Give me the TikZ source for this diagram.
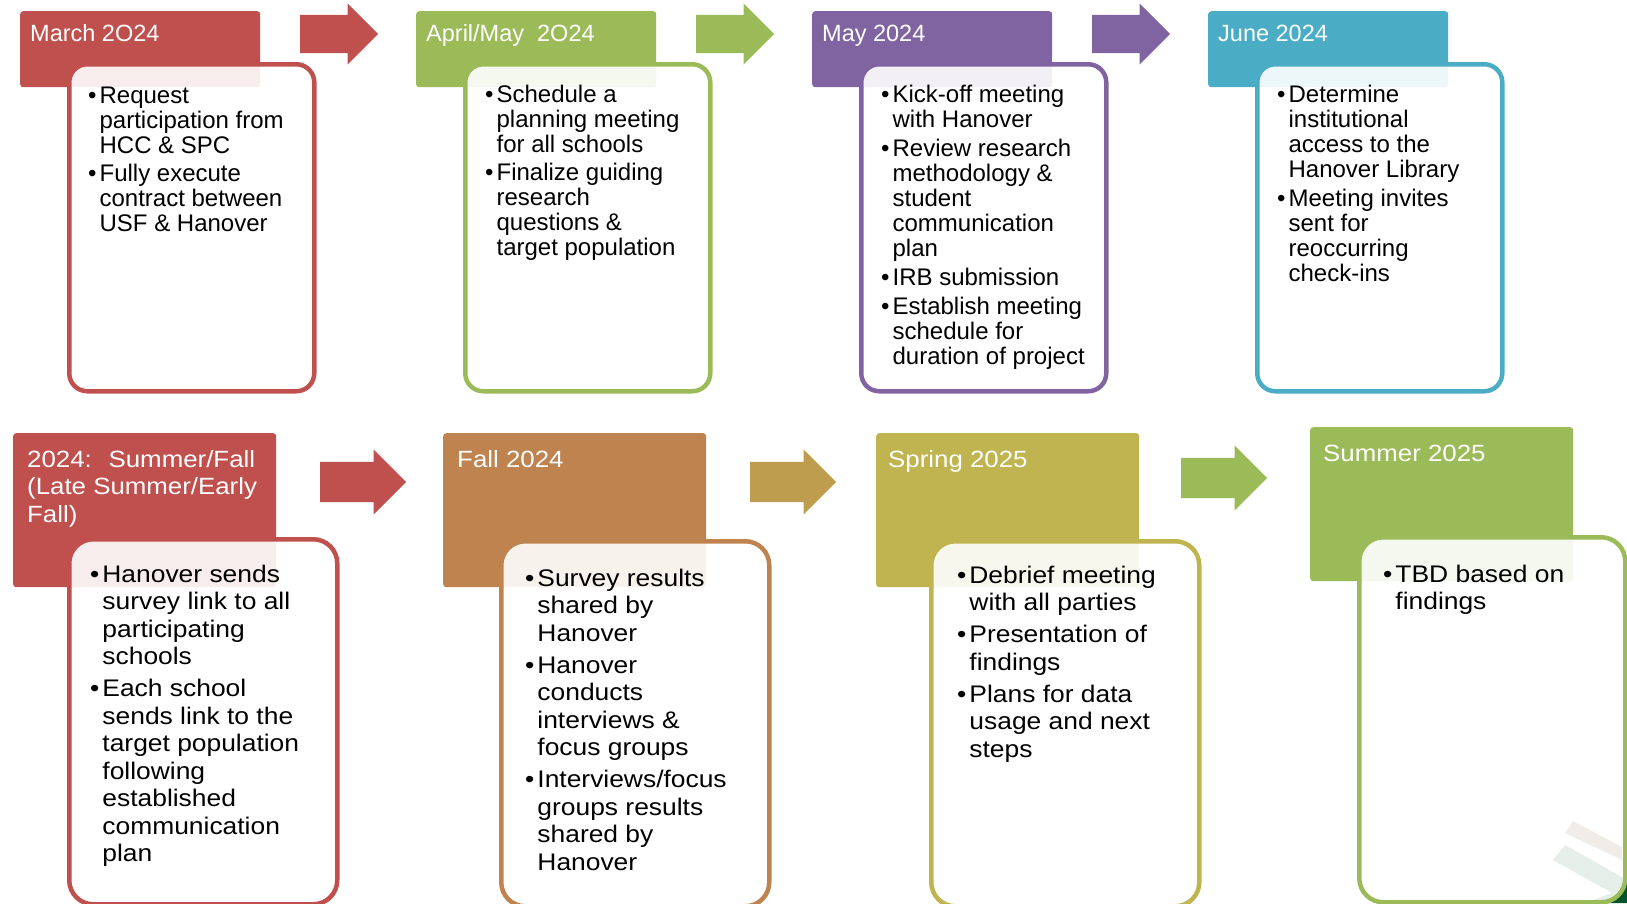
\documentclass[tikz,border=0pt]{standalone}
\usepackage{fontspec}
\setmainfont{Liberation Sans}
\newfontfamily\widefont[FakeStretch=1.1]{Liberation Sans}
\usetikzlibrary{shapes.arrows}

\definecolor{mred}{HTML}{C0504D}
\definecolor{mgreen}{HTML}{9BBB59}
\definecolor{mpurple}{HTML}{8064A2}
\definecolor{maqua}{HTML}{4BACC6}
\definecolor{mfall}{HTML}{BF834F}
\definecolor{mgold}{HTML}{BF9D4F}
\definecolor{mspring}{HTML}{BFB44F}
\definecolor{mbrown}{RGB}{105,65,25}
\definecolor{mdark}{RGB}{0,85,45}

\newcommand{\lines}[1]{\begin{tabular}[t]{@{}l@{}}#1\end{tabular}}
\newcommand{\pts}[1]{\begin{tabular}[t]{@{}l@{\hspace{3pt}}l@{}}#1\end{tabular}}
\newcommand{\bu}{\textbullet}

\begin{document}
\begin{tikzpicture}[x=1pt,y=-1pt,
  hdr/.style={fill=#1, rounded corners=3pt, inner sep=0pt, anchor=north west, minimum width=240pt, minimum height=76pt},
  hdrb/.style={hdr=#1, minimum width=263pt, minimum height=154pt},
  card/.style={draw=#1, line width=4.5pt, fill=white, fill opacity=0.9, rounded corners=18pt, inner sep=0pt, anchor=north west, minimum width=245pt, minimum height=327pt},
  cardb/.style={card=#1, rounded corners=24pt, minimum width=268pt, minimum height=365pt},
  blk/.style={single arrow, fill=#1, inner xsep=0pt, inner ysep=19pt, single arrow head extend=11.5pt, minimum width=61pt, minimum height=78pt, anchor=west},
  blkb/.style={blk=#1, inner ysep=20pt, single arrow head extend=12.5pt, minimum width=65pt, minimum height=86pt},
  ttl/.style={text=white, inner sep=0pt, anchor=base west, font=\fontsize{23.5}{25}\selectfont},
  ttlb/.style={ttl, font=\widefont\fontsize{23.5}{27.5}\selectfont},
  txt/.style={inner sep=0pt, anchor=base west, font=\fontsize{24}{25}\selectfont},
  txtb/.style={txt, font=\widefont\fontsize{24}{27.5}\selectfont}]
\useasboundingbox (0,0) rectangle (1627,903);

% 2024 top row
\node[hdr=mred] (h1) at (20,11) {};
\node[hdr=mgreen] (h2) at (416,11) {};
\node[hdr=mpurple] (h3) at (812,11) {};
\node[hdr=maqua] (h4) at (1208,11) {};

\node[blk=mred] (a1) at (300,34) {};
\node[blk=mgreen] (a2) at (696,34) {};
\node[blk=mpurple] (a3) at (1092,34) {};

\node[card=mred] (c1) at (67,62) {};
\node[card=mgreen] (c2) at (463,62) {};
\node[card=mpurple] (c3) at (859,62) {};
\node[card=maqua] (c4) at (1255,62) {};

\node[ttl] (n1) at (30,41) {March 2O24};
\node[ttl] (n2) at (426,41) {April/May~ 2O24};
\node[ttl] (n3) at (822,41) {May 2024};
\node[ttl] (n4) at (1218,41) {June 2024};

\node[txt] (t1) at (88,103) {\pts{\bu & Request\\ & participation from\\ & HCC \& SPC\\[3pt]
  \bu & Fully execute\\ & contract between\\ & USF \& Hanover}};
\node[txt] (t2) at (485,102) {\pts{\bu & Schedule a\\ & planning meeting\\ & for all schools\\[3.5pt]
  \bu & Finalize guiding\\ & research\\ & questions \&\\ & target population}};
\node[txt] (t3) at (881,102) {\pts{\bu & Kick-off meeting\\ & with Hanover\\[4pt]
  \bu & Review research\\ & methodology \&\\ & student\\ & communication\\ & plan\\[4pt]
  \bu & IRB submission\\[4pt]
  \bu & Establish meeting\\ & schedule for\\ & duration of project}};
\node[txt] (t4) at (1277,102) {\pts{\bu & Determine\\ & institutional\\ & access to the\\ & Hanover Library\\[4pt]
  \bu & Meeting invites\\ & sent for\\ & reoccurring\\ & check-ins}};

% 2024/2025 bottom row
\node[hdrb=mred] (h5) at (13,433) {};
\node[hdrb=mfall] (h6) at (443,433) {};
\node[hdrb=mspring] (h7) at (876,433) {};
\node[hdrb=mgreen] (h8) at (1310,427) {};

\node[blkb=mred] (a4) at (320,482) {};
\node[blkb=mgold] (a5) at (750,482) {};
\node[blkb=mgreen] (a6) at (1181,478) {};

\fill[mbrown] (1573,821) -- (1622,847) -- (1622,860) -- (1565,833) -- cycle;
\fill[mdark] (1565,845) -- (1627,880) -- (1627,903) -- (1585,903) -- (1612,893) -- (1553,860) -- cycle;

\node[cardb=mred] (c5) at (67,537) {};
\node[cardb=mfall] (c6) at (499,539) {};
\node[cardb=mspring] (c7) at (929,539) {};
\node[cardb=mgreen, minimum width=266pt] (c8) at (1357,535) {};

\node[ttlb] (n5) at (27,467) {\lines{2024:~ Summer/Fall\\ (Late Summer/Early\\ Fall)}};
\node[ttlb] (n6) at (457,467) {Fall 2024};
\node[ttlb] (n7) at (888,467) {Spring 2025};
\node[ttlb] (n8) at (1323,461) {Summer 2025};

\node[txtb] (t5) at (90,582) {\pts{\bu & Hanover sends\\ & survey link to all\\ & participating\\ & schools\\[4.5pt]
  \bu & Each school\\ & sends link to the\\ & target population\\ & following\\ & established\\ & communication\\ & plan}};
\node[txtb] (t6) at (525,586) {\pts{\bu & Survey results\\ & shared by\\ & Hanover\\[4.5pt]
  \bu & Hanover\\ & conducts\\ & interviews \&\\ & focus groups\\[4.5pt]
  \bu & Interviews/focus\\ & groups results\\ & shared by\\ & Hanover}};
\node[txtb] (t7) at (957,583) {\pts{\bu & Debrief meeting\\ & with all parties\\[4.5pt]
  \bu & Presentation of\\ & findings\\[4.5pt]
  \bu & Plans for data\\ & usage and next\\ & steps}};
\node[txtb] (t8) at (1383,582) {\pts{\bu & TBD based on\\ & findings}};
\end{tikzpicture}
\end{document}
